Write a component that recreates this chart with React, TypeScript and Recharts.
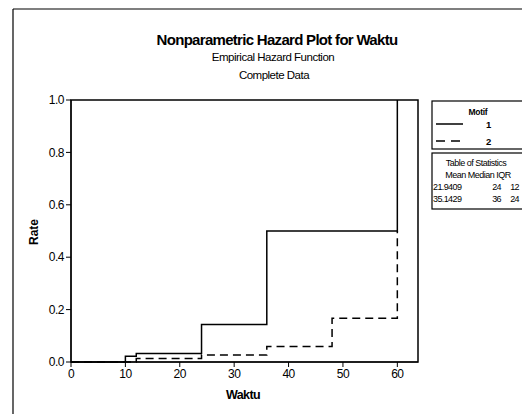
import React from "react";
import { LineChart, Line, XAxis, YAxis, ReferenceArea } from "recharts";

// Empirical hazard estimates
const times1 = [0, 10, 12, 24, 36, 60];
const hazard1 = [0, 0.022, 0.032, 0.143, 0.5, 1.0];
const times2 = [0, 12, 24, 36, 48, 60];
const hazard2 = [0, 0.013, 0.027, 0.059, 0.167, 0.5];

const xTicks = [0, 10, 20, 30, 40, 50, 60];
const yTicks = [0, 0.2, 0.4, 0.6, 0.8, 1.0];

const motifs = ["1", "2"];
const statRows = [
  { mean: "21.9409", median: "24", iqr: "12" },
  { mean: "35.1429", median: "36", iqr: "24" },
];

const font = "'Liberation Sans', Arial, sans-serif";

const series1 = times1.map((t, i) => ({ t, h: hazard1[i] }));
const series2 = times2.map((t, i) => ({ t, h: hazard2[i] }));

const Overlay = () => (
  <svg width={522} height={414} style={{ position: "absolute", left: 0, top: 0, pointerEvents: "none" }} fontFamily={font}>
    <line x1={13} y1={9} x2={13} y2={414} stroke="#000" strokeWidth={1.2} />
    <line x1={13} y1={9} x2={522} y2={9} stroke="#000" strokeWidth={1.2} />
    <text x={277} y={45} textAnchor="middle" fontSize={15} fontWeight="bold" letterSpacing={-0.7}>
      Nonparametric Hazard Plot for Waktu
    </text>
    <text x={273} y={61} textAnchor="middle" fontSize={11.5} letterSpacing={-0.5}>Empirical Hazard Function</text>
    <text x={274} y={79} textAnchor="middle" fontSize={11.5} letterSpacing={-0.5}>Complete Data</text>
    <text x={243} y={399} textAnchor="middle" fontSize={12.5} fontWeight="bold" letterSpacing={-0.6}>Waktu</text>
    <text x={38} y={232} textAnchor="middle" fontSize={12} fontWeight="bold" transform="rotate(-90 38 232)">Rate</text>

    {/* legend */}
    <rect x={432} y={101} width={95} height={48} fill="#fff" stroke="#000" strokeWidth={1.2} />
    <text x={478} y={115} textAnchor="middle" fontSize={8.5} fontWeight="bold" letterSpacing={-0.3}>Motif</text>
    {motifs.map((m, i) => (
      <g key={m}>
        <line x1={436} x2={463} y1={124 + i * 17} y2={124 + i * 17} stroke="#000" strokeWidth={1.5} strokeDasharray={i === 0 ? undefined : "9 6"} />
        <text x={486} y={128 + i * 17} fontSize={9.5} fontWeight="bold">{m}</text>
      </g>
    ))}
    <rect x={432} y={153} width={95} height={56} fill="#fff" stroke="#000" strokeWidth={1.2} />
    <text x={476} y={166} textAnchor="middle" fontSize={9} letterSpacing={-0.5}>Table of Statistics</text>
    <text x={478} y={178} textAnchor="middle" fontSize={9} letterSpacing={-0.5}>Mean Median IQR</text>
    {statRows.map((r, i) => (
      <g key={i} fontSize={9} letterSpacing={-0.6}>
        <text x={433} y={190 + i * 12}>{r.mean}</text>
        <text x={501} y={190 + i * 12} textAnchor="end">{r.median}</text>
        <text x={519} y={190 + i * 12} textAnchor="end">{r.iqr}</text>
      </g>
    ))}
  </svg>
);

export default function App() {
  return (
    <div style={{ position: "absolute", left: 0, top: 0, width: 522, height: 414, background: "#fff" }}>
      <LineChart width={522} height={414} margin={{ top: 100, right: 104, bottom: 22, left: 0 }}>
        <XAxis
          type="number"
          dataKey="t"
          domain={[0, 63.8]}
          ticks={xTicks}
          allowDataOverflow
          height={30}
          tickSize={5}
          stroke="#000"
          tick={{ fill: "#000", fontSize: 12, fontFamily: font, letterSpacing: -0.5 }}
        />
        <YAxis
          type="number"
          domain={[0, 1]}
          ticks={yTicks}
          width={71}
          tickSize={5}
          stroke="#000"
          tickFormatter={(v: number) => v.toFixed(1)}
          tick={{ fill: "#000", fontSize: 12, fontFamily: font, letterSpacing: -0.5 }}
        />
        <ReferenceArea x1={0} x2={63.8} y1={0} y2={1} fill="none" stroke="#000" strokeWidth={1.5} />
        <Line data={series1} dataKey="h" type="stepAfter" stroke="#000" strokeWidth={1.5} dot={false} isAnimationActive={false} />
        <Line data={series2} dataKey="h" type="stepAfter" stroke="#000" strokeWidth={1.5} strokeDasharray="8 5" dot={false} isAnimationActive={false} />
      </LineChart>
      <Overlay />
    </div>
  );
}
